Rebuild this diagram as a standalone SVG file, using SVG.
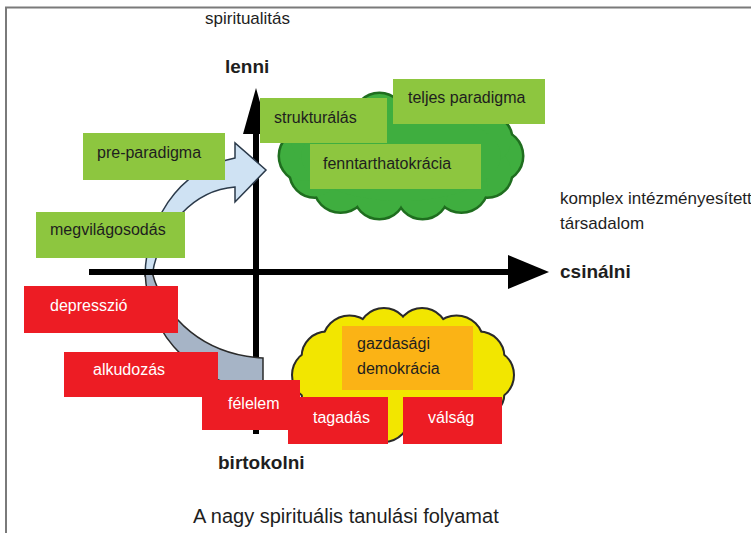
<svg xmlns="http://www.w3.org/2000/svg" xmlns:xlink="http://www.w3.org/1999/xlink" width="751" height="533" viewBox="0 0 751 533">
<defs>
<style>
text{font-family:"Liberation Sans",Arial,sans-serif;fill:#1e1e1e}
.lbl{font-size:16px}
.w{fill:#ffffff}
.ax{font-size:19px;font-weight:bold}
.g{fill:#8dc63f}
.r{fill:#ed1c24}
</style>
<g id="gc">
<circle cx="497" cy="156" r="25"/><circle cx="487.3" cy="172.6" r="24"/><circle cx="461.4" cy="185.5" r="26"/><circle cx="422.6" cy="193" r="25"/><circle cx="379.4" cy="193" r="25"/><circle cx="340.6" cy="185.5" r="26"/><circle cx="314.7" cy="172.6" r="24"/><circle cx="305" cy="156" r="25"/><circle cx="314.7" cy="139.4" r="24"/><circle cx="340.6" cy="126.5" r="26"/><circle cx="379.4" cy="119" r="25"/><circle cx="422.6" cy="119" r="25"/><circle cx="461.4" cy="126.5" r="26"/><circle cx="487.3" cy="139.4" r="24"/>
</g>
<g id="yc">
<circle cx="488" cy="375" r="25"/><circle cx="479.4" cy="393.4" r="24"/><circle cx="456.5" cy="407.6" r="26"/><circle cx="422.1" cy="415.9" r="25"/><circle cx="383.9" cy="415.9" r="25"/><circle cx="349.5" cy="407.6" r="26"/><circle cx="326.6" cy="393.4" r="24"/><circle cx="318" cy="375" r="25"/><circle cx="326.6" cy="356.6" r="24"/><circle cx="349.5" cy="342.4" r="26"/><circle cx="383.9" cy="334.1" r="25"/><circle cx="422.1" cy="334.1" r="25"/><circle cx="456.5" cy="342.4" r="26"/><circle cx="479.4" cy="356.6" r="24"/>
</g>
</defs>
<rect width="751" height="533" fill="#ffffff"/>
<path d="M5 7.5H751M6 7V533" stroke="#7a7a7a" stroke-width="2" fill="none"/>

<g id="cloud-green">
<use xlink:href="#gc" fill="#1f6e1f" stroke="#1f6e1f" stroke-width="5"/>
<use xlink:href="#gc" fill="#3fae3f"/>
<ellipse cx="401" cy="156" rx="100" ry="45" fill="#3fae3f"/>
</g>
<g id="cloud-yellow">
<use xlink:href="#yc" fill="#2a2a2a" stroke="#2a2a2a" stroke-width="4"/>
<use xlink:href="#yc" fill="#f2e600"/>
<ellipse cx="403" cy="375" rx="90" ry="50" fill="#f2e600"/>
</g>

<g id="connectors">
<line x1="256" y1="130" x2="256" y2="434" stroke="#000" stroke-width="6"/>
<polygon points="256,88 243,134 269,134" fill="#000"/>
<path d="M145,276 C146,225 175,170 235,158 L235,143 L266,170 L235,202 L235,187 C195,190 160,225 152,276 Z" fill="#cfe2f3" stroke="#2b3a4a" stroke-width="1.5" stroke-linejoin="miter"/>
<path d="M145,272 C148,340 200,385 263,392 L263,358 C205,355 165,320 152,272 Z" fill="#a6b4c6" stroke="#2b2b2b" stroke-width="1.5"/>
<line x1="89" y1="272" x2="512" y2="272" stroke="#000" stroke-width="6"/>
<polygon points="508,255 549,272 508,289" fill="#000"/>
</g>

<g id="spiritualitas"><text x="205" y="24" style="font-size:17px">spiritualitás</text></g>
<g id="lenni"><text class="ax" x="225" y="73">lenni</text></g>
<g id="csinalni"><text class="ax" x="560" y="278">csinálni</text></g>
<g id="birtokolni"><text class="ax" x="218" y="469">birtokolni</text></g>
<g id="komplex"><text x="560" y="204" style="font-size:17px" fill="#2a2a2a">komplex intézményesített</text><text x="560" y="229" style="font-size:17px">társadalom</text></g>

<g id="strukturalas"><rect class="g" x="260" y="98" width="127" height="45"/><text class="lbl" x="274" y="123">strukturálás</text></g>
<g id="teljes-paradigma"><rect class="g" x="393" y="79" width="152" height="45"/><text class="lbl" x="408" y="103">teljes paradigma</text></g>
<g id="fenntarthatokracia"><rect class="g" x="310" y="144" width="171" height="45"/><text class="lbl" x="323" y="169">fenntarthatokrácia</text></g>
<g id="pre-paradigma"><rect class="g" x="83" y="133" width="142" height="47"/><text class="lbl" x="97" y="158">pre-paradigma</text></g>
<g id="megvilagosodas"><rect class="g" x="36" y="212" width="149" height="46"/><text class="lbl" x="50" y="235">megvilágosodás</text></g>

<g id="gazdasagi-demokracia"><rect x="342" y="326" width="131" height="64" fill="#fbb315"/><text class="lbl" x="357" y="349">gazdasági</text><text class="lbl" x="357" y="374">demokrácia</text></g>

<g id="depresszio"><rect class="r" x="24" y="286" width="154" height="47"/><text class="lbl w" x="50" y="311">depresszió</text></g>
<g id="alkudozas"><rect class="r" x="64" y="352" width="154" height="45"/><text class="lbl w" x="93" y="375">alkudozás</text></g>
<g id="felelem"><rect class="r" x="202" y="380" width="98" height="50"/><text class="lbl w" x="228" y="409">félelem</text></g>
<g id="tagadas"><rect class="r" x="288" y="397" width="100" height="47"/><text class="lbl w" x="313" y="423">tagadás</text></g>
<g id="valsag"><rect class="r" x="403" y="397" width="99" height="47"/><text class="lbl w" x="428" y="423">válság</text></g>

<g id="title"><text x="193" y="523" style="font-size:20px">A nagy spirituális tanulási folyamat</text></g>
</svg>
